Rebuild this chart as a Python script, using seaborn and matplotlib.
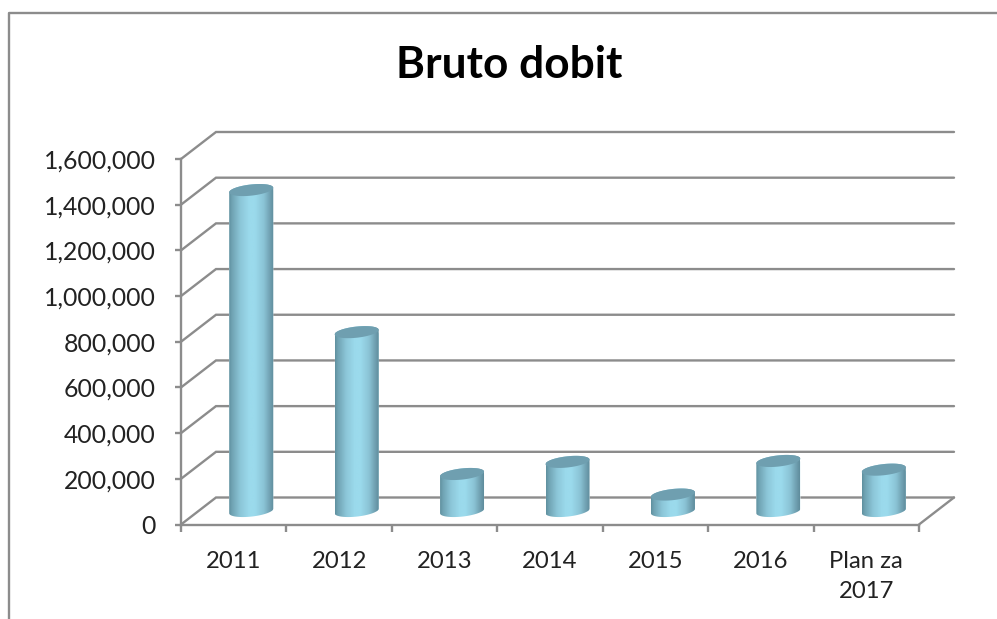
import numpy as np
import pandas as pd
import seaborn as sns
import matplotlib
matplotlib.use("Agg")
import matplotlib.pyplot as plt
from matplotlib.colors import LinearSegmentedColormap
from matplotlib.patches import Polygon
from matplotlib.lines import Line2D
from matplotlib.transforms import ScaledTranslation

categories = ["2011", "2012", "2013", "2014", "2015", "2016", "Plan za\n2017"]
values = [1405000, 783000, 162000, 215000, 72000, 219000, 181000]
y_ticks = [0, 200000, 400000, 600000, 800000, 1000000, 1200000, 1400000, 1600000]
title = "Bruto dobit"

sns.set_theme(style="white")
plt.rcParams["font.family"] = ["Lato", "DejaVu Sans"]

W, H = 997, 619
fig = plt.figure(figsize=(W / 100, H / 100), dpi=100, facecolor="white")
L, R, Y0, Y1 = 181, 919, 524.5, 159
ax = fig.add_axes([L / W, 1 - Y0 / H, (R - L) / W, (Y0 - Y1) / H])
GREY = "#8c8c8c"
TXT = "#222222"
LW = 1.7

df = pd.DataFrame({"cat": categories, "val": values})
sns.barplot(data=df, x="cat", y="val", color="#8cc9db", width=44 / 105.43, ax=ax, saturation=1, zorder=4)
ax.set_xlim(-0.5, 6.5)
ax.set_ylim(0, 1600000)
ax.set_xlabel("")
ax.set_ylabel("")
for s in ["top", "right"]:
    ax.spines[s].set_visible(False)
for s in ["left", "bottom"]:
    ax.spines[s].set_color(GREY)
    ax.spines[s].set_linewidth(LW)

ax.set_yticks(y_ticks)
ax.set_yticklabels([f"{v:,}" for v in y_ticks], fontsize=17.8, color=TXT)
ax.set_xticks(range(len(categories)))
ax.set_xticklabels(categories, fontsize=17.2, color=TXT, linespacing=1.52, va="top")
ax.set_xticks(np.arange(-0.5, 7, 1), minor=True)
ax.tick_params(axis="y", which="major", left=True, length=4.5, width=LW, color=GREY, pad=13.5)
ax.tick_params(axis="x", which="major", bottom=False, length=0, pad=19)
ax.tick_params(axis="x", which="minor", bottom=True, length=5, width=LW, color=GREY)

sx = 7 / (R - L)
sy = 1600000 / (Y0 - Y1)
depth_x, depth_y = 35 * sx, 27 * sy

# back wall and side wall
for v in y_ticks:
    ax.plot([-0.5, -0.5 + depth_x, 6.5 + depth_x], [v, v + depth_y, v + depth_y],
            color=GREY, lw=LW, clip_on=False, zorder=2, solid_joinstyle="miter")
ax.plot([6.5, 6.5 + depth_x], [0, depth_y], color=GREY, lw=LW, clip_on=False, zorder=2)

# cylinders sit halfway through the depth of the floor
offset = ax.transData + ScaledTranslation(17.5 / 100, 13.5 / 100, fig.dpi_scale_trans)
cmap = LinearSegmentedColormap.from_list(
    "cyl", [(0, "#5f909f"), (0.06, "#6fa2b2"), (0.25, "#8cc6d8"), (0.45, "#9bdaec"),
            (0.58, "#9bdaec"), (0.78, "#8ac3d5"), (0.92, "#6f9fb0"), (1, "#5f8d9c")])
grad = np.linspace(0, 1, 128).reshape(1, -1)
a, b, k = 22, 5.6, 2.3


def ring(cx, cy, t):
    return np.column_stack([cx + a * sx * np.cos(t), cy + (k * np.cos(t) + b * np.sin(t)) * sy])


for bar in ax.patches:
    cx = bar.get_x() + bar.get_width() / 2
    top = bar.get_height()
    body = np.vstack([ring(cx, 0, np.linspace(np.pi, 2 * np.pi, 40)),
                      ring(cx, top, np.linspace(0, np.pi, 40))])
    clip = Polygon(body, closed=True, transform=offset, facecolor="none", edgecolor="none")
    ax.add_patch(clip)
    bar.set_transform(offset)
    bar.set_clip_path(clip)
    im = ax.imshow(grad, cmap=cmap, aspect="auto", zorder=5, interpolation="bilinear",
                   extent=[cx - a * sx, cx + a * sx, -12 * sy, top + 12 * sy], transform=offset)
    im.set_clip_path(clip)
    ax.add_patch(Polygon(ring(cx, top, np.linspace(0, 2 * np.pi, 60)), closed=True, transform=offset,
                         facecolor="#6f9fb0", edgecolor="none", zorder=6, clip_on=False))

ax.set_xlim(-0.5, 6.5)
ax.set_ylim(0, 1600000)
ax.set_aspect("auto")

fig.text(509.5 / W, 1 - 65 / H, title, ha="center", va="center", fontsize=31.8, fontweight="bold", color="black")

# chart frame: the top and left edges run off the picture
BL, BT = 9, 12.5
fig.add_artist(Line2D([BL / W, BL / W, 1], [0, 1 - BT / H, 1 - BT / H],
                      color=GREY, lw=1.7, transform=fig.transFigure))

fig.savefig("out.png", dpi=100)
